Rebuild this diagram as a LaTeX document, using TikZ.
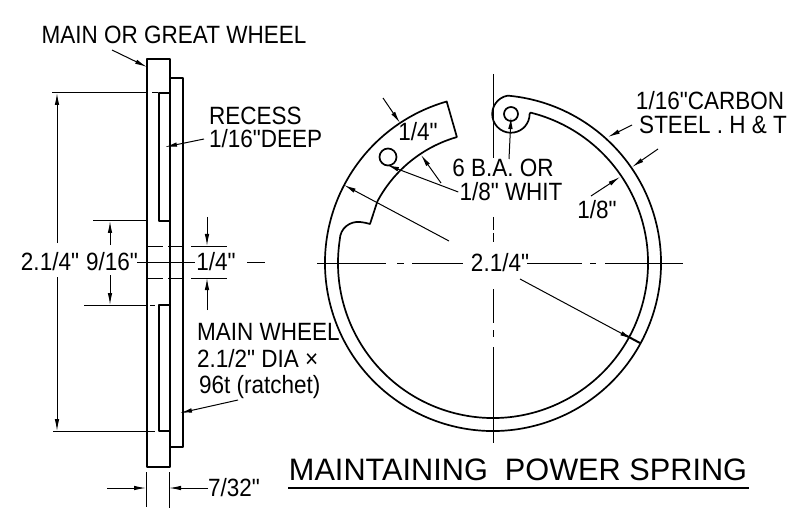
\documentclass[tikz,border=0pt]{standalone}
\usepackage{fontspec}
\newfontfamily\lettering[FakeStretch=0.9]{Liberation Sans}
\newfontfamily\titlelettering[FakeStretch=0.99]{Liberation Sans}
\usetikzlibrary{arrows.meta,calc,positioning}

\begin{document}
\begin{tikzpicture}[x=1pt,y=1pt,>={Latex[length=12pt,width=4.5pt]}]
	\tikzstyle{outl} = [draw,line width=1.7pt,line join=round]
	\tikzstyle{thinl} = [draw,line width=1pt]
	\tikzstyle{dim} = [draw,line width=1pt,->]
	\tikzstyle{lbl} = [inner sep=0pt,font=\lettering\fontsize{25}{25}\selectfont]
	\tikzstyle{lblw} = [lbl,anchor=west]
	\tikzstyle{ttl} = [inner sep=0pt,font=\titlelettering\fontsize{31}{31}\selectfont]
	\useasboundingbox (0,0) rectangle (802,528);

	% wheel, side view
	\draw[outl] (147,61) rectangle (170,469);
	\draw[outl] (170,81) rectangle (183,450);
	\draw[outl] (159,307) rectangle (170,435);
	\draw[outl] (159,97) rectangle (170,223);
	\draw[thinl,dash pattern=on 16pt off 5pt on 14pt off 9pt on 36pt off 99pt] (147,282) -- (228,282);
	\draw[thinl,dash pattern=on 16pt off 5pt on 14pt off 9pt on 36pt off 99pt] (147,250) -- (230,250);
	\draw[thinl] (137,266) -- (195,266);
	\draw[thinl] (247,266) -- (265,266);
	% extension lines
	\draw[thinl] (52,435) -- (147,435) (152,435) -- (158,435);
	\draw[thinl] (93,307) -- (147,307);
	\draw[thinl] (84,223) -- (147,223) (150,223) -- (155,223);
	\draw[thinl] (53,97) -- (155,97);
	\draw[thinl] (146,56) -- (146,21);
	\draw[thinl] (169,56) -- (169,20);

	% labels, side view
	\node[lbl] (greatL) at (174,493) {MAIN OR GREAT WHEEL};
	\node[lblw] (recessL) at (209,412) {RECESS};
	\node[lblw] (deepL) at (209,389) {1/16"DEEP};
	\node[lbl] (overallL) at (50,266) {2.1/4"};
	\node[lbl] (boreL) at (112,266) {9/16"};
	\node[lbl] (hubL) at (216,266) {1/4"};
	\node[lblw] (mainL) at (197,196) {MAIN WHEEL};
	\node[lblw] (diaL) at (197,169) {2.1/2" DIA ×};
	\node[lblw] (ratchetL) at (199,141) {96t (ratchet)};
	\node[lblw] (thickL) at (208,40) {7/32"};

	\draw[dim] (112,478) -- (147,461);
	\draw[dim] ([xshift=-5pt]deepL.west) -- (165,381);
	\draw[dim] (238,128) -- (180,115);
	\draw[dim] (57,285) -- (57,435);
	\draw[dim] (57,251) -- (57,97);
	\draw[dim] (110,283) -- (110,307);
	\draw[dim] (110,253) -- (110,223);
	\draw[dim] (207,311) -- (207,282);
	\draw[dim] (207,218) -- (207,250);
	\draw[dim] (107,40) -- (146,40);
	\draw[dim] (thickL.west) -- (169,40);

	% spring
	\coordinate (C) at (493,265);
	\draw[outl] ($(C)+(106:168)$) arc (106:445:168)
		arc (100:360:18.7)
		-- ($(C)+(76:155)$) arc (76:-188.5:155)
		.. controls (340,300) and (350,307) .. (360,306)
		.. controls (364,305.5) and (367,305) .. (370,304)
		-- ($(C)+(152:131)$) arc (152:106:131) -- cycle;
	\node[outl,circle,minimum size=17pt,inner sep=0pt] (holeA) at (388,371) {};
	\node[outl,circle,minimum size=14pt,inner sep=0pt] (holeB) at (511,414) {};

	% centre lines
	\draw[thinl] (317,265) -- (386,265) (397,265) -- (404,265) (412,265) -- (463,265);
	\draw[thinl] (527,265) -- (582,265) (590,265) -- (596,265) (605,265) -- (683,265);
	\draw[thinl] (493,454) -- (493,370) (493,311) -- (493,298) (493,295) -- (493,286);
	\draw[thinl] (493,239) -- (493,205) (493,198) -- (493,191) (493,181) -- (493,85);

	% labels, spring
	\node[lbl] (segL) at (418,396) {1/4"};
	\node[lbl] (baL) at (503,360) {6 B.A. OR};
	\node[lbl] (whitL) at (511,336) {1/8" WHIT};
	\node[lbl] (radL) at (500,265) {2.1/4"};
	\node[lbl] (stripL) at (597,318) {1/8"};
	\node[lbl] (carbonL) at (710,427) {1/16"CARBON};
	\node[lbl] (steelL) at (713,403) {STEEL . H \& T};
	\node[ttl] (titleL) at (518,58) {MAINTAINING\ \ POWER SPRING};
	\draw[line width=2.2pt] (288,40) -- (749,40);

	\draw[dim] (383,430) -- (400,405);
	\draw[dim] (441,345) -- (421,373);
	\draw[dim] ([xshift=-1pt]whitL.west) -- (387,363);
	\draw[dim] (509,369) -- (511,411);
	\draw[dim] (449,287) -- (344,343);
	\draw[dim] (520,249) -- (632,189);
	\draw[line width=2pt] (625,193) -- (640,185);
	\draw[dim] ([xshift=-7pt]steelL.west) -- (608,391);
	\draw[dim] (658,379) -- (632,361);
	\draw[dim] (591,332) -- (620,351);
\end{tikzpicture}
\end{document}
